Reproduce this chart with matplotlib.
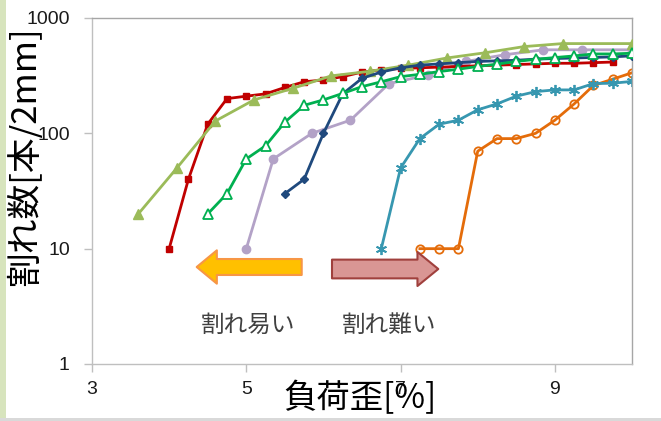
import matplotlib
matplotlib.use("Agg")
import matplotlib.pyplot as plt
from matplotlib.patches import FancyArrowPatch, Rectangle, ArrowStyle

plt.rcParams['font.family'] = ['Noto Sans CJK JP', 'DejaVu Sans']

# ---- data ----
red_x = [4.0, 4.25, 4.5, 4.75, 5.0, 5.25, 5.5, 5.75, 6.0, 6.25, 6.5, 6.75, 7.0, 7.25,
         7.5, 7.75, 8.0, 8.25, 8.5, 8.75, 9.0, 9.25, 9.5, 9.75]
red_y = [10, 40, 120, 200, 210, 220, 250, 280, 290, 310, 340, 355, 365, 370,
         375, 380, 385, 390, 395, 400, 405, 405, 410, 415]

olive_x = [3.6, 4.1, 4.6, 5.1, 5.6, 6.1, 6.6, 7.1, 7.6, 8.1, 8.6, 9.1, 10.0]
olive_y = [20, 50, 128, 195, 245, 315, 345, 390, 450, 500, 565, 600, 600]

green_x = [4.5, 4.75, 5.0, 5.25, 5.5, 5.75, 6.0, 6.25, 6.5, 6.75, 7.0, 7.25, 7.5,
           7.75, 8.0, 8.25, 8.5, 8.75, 9.0, 9.25, 9.5, 9.75, 10.0]
green_y = [20, 30, 60, 78, 125, 175, 195, 222, 254, 280, 310, 325, 343,
           360, 380, 398, 420, 438, 454, 469, 488, 488, 495]

lav_x = [5.0, 5.35, 5.85, 6.35, 6.85, 7.35, 7.85, 8.35, 8.85, 9.35, 10.0]
lav_y = [10, 60, 100, 130, 270, 320, 420, 480, 530, 530, 530]

blue_x = [5.5, 5.75, 6.0, 6.25, 6.5, 6.75, 7.0, 7.25, 7.5, 7.75, 8.0, 8.25, 8.5,
          8.75, 9.0, 9.25, 9.5, 9.75, 10.0]
blue_y = [30, 40, 100, 220, 300, 340, 370, 390, 400, 410, 420, 425, 430,
          440, 445, 450, 455, 460, 470]

teal_x = [6.75, 7.0, 7.25, 7.5, 7.75, 8.0, 8.25, 8.5, 8.75, 9.0, 9.25, 9.5, 9.75, 10.0]
teal_y = [10, 50, 90, 120, 130, 160, 180, 210, 230, 238, 238, 270, 272, 282]

orange_x = [7.25, 7.5, 7.75, 8.0, 8.25, 8.5, 8.75, 9.0, 9.25, 9.5, 9.75, 10.0]
orange_y = [10, 10, 10, 70, 90, 90, 100, 130, 180, 260, 295, 335]

x_ticks = [3, 5, 7, 9]
y_ticks = [1, 10, 100, 1000]
y_tick_labels = ['1', '10', '100', '1000']

# ---- figure ----
W, H = 661, 421
fig = plt.figure(figsize=(W / 100, H / 100), dpi=100)
fig.patch.set_facecolor('white')
# slide decorations
fig.patches.append(Rectangle((0, 0), 6 / W, 1, transform=fig.transFigure,
                             facecolor='#d7e4bd', edgecolor='none', zorder=0))
fig.patches.append(Rectangle((0, 0), 1, 3 / H, transform=fig.transFigure,
                             facecolor='#d9d9d9', edgecolor='none', zorder=0))

L, R, T, B = 92, 632, 18, 364
ax = fig.add_axes([L / W, 1 - B / H, (R - L) / W, (B - T) / H])
ax.set_yscale('log')
ax.set_xlim(3, 10)
ax.set_ylim(1, 1000)

lw = 2.0
ms = 5
ax.plot(orange_x, orange_y, color='#e46c0a', lw=lw, marker='o', ms=ms + 1,
        mfc='none', mec='#e46c0a', mew=1.3, zorder=2)
ax.plot(teal_x, teal_y, color='#3797b0', lw=lw, marker=(6, 2, 0), ms=ms + 3,
        mec='#3797b0', mew=1.3, zorder=2)
ax.plot(lav_x, lav_y, color='#b3a2c7', lw=lw, marker='o', ms=ms + 1,
        mfc='#b3a2c7', mec='#b3a2c7', zorder=3)
ax.plot(red_x, red_y, color='#c00000', lw=lw, marker='s', ms=ms,
        mfc='#c00000', mec='#c00000', zorder=4)
ax.plot(olive_x, olive_y, color='#9bbb59', lw=lw, marker='^', ms=ms + 2,
        mfc='#9bbb59', mec='#9bbb59', zorder=4)
ax.plot(blue_x, blue_y, color='#1f497d', lw=lw, marker='D', ms=ms - 1,
        mfc='#1f497d', mec='#1f497d', zorder=5)
ax.plot(green_x, green_y, color='#00b050', lw=lw, marker='^', ms=ms + 2,
        mfc='white', mec='#00b050', mew=1.3, zorder=6)

# axes styling
ax.set_xticks(x_ticks)
ax.set_xticklabels([str(t) for t in x_ticks])
ax.set_yticks(y_ticks)
ax.set_yticklabels(y_tick_labels)
ax.minorticks_off()
ax.yaxis.set_minor_locator(matplotlib.ticker.NullLocator())
for lab in ax.get_xticklabels() + ax.get_yticklabels():
    lab.set_fontfamily('Liberation Sans')
    lab.set_fontsize(14)
    lab.set_color('#1a1a1a')
ax.tick_params(axis='y', direction='out', length=6, width=1, color='#bfbfbf', pad=10)
ax.tick_params(axis='x', direction='out', length=6, width=1, color='#bfbfbf', pad=6)
ax.spines['left'].set_color('#bfbfbf')
ax.spines['bottom'].set_color('#bfbfbf')
ax.spines['top'].set_color('#a6a6a6')
ax.spines['right'].set_color('#a6a6a6')
for s in ax.spines.values():
    s.set_linewidth(1.0)

# labels
fig.text(26 / W, 1 - 156 / H, '割れ数[本/2mm]', rotation=90, ha='center', va='center',
         fontsize=25, color='black')
fig.text(360 / W, 1 - 399 / H, '負荷歪[%]', ha='center', va='center',
         fontsize=24, color='black')

# annotation arrows (axes fraction)
def fx(px):
    return (px - L) / (R - L)

def fy(py):
    return (B - py) / (B - T)

a1 = FancyArrowPatch((fx(301.7), fy(267)), (fx(196.7), fy(267)),
                     transform=ax.transAxes,
                     arrowstyle=ArrowStyle('Simple', head_length=14.5, head_width=24, tail_width=11.5),
                     mutation_scale=1, shrinkA=0, shrinkB=0,
                     facecolor='#ffc000', edgecolor='#f79646', lw=1.5, zorder=7,
                     clip_on=False)
ax.add_patch(a1)
a2 = FancyArrowPatch((fx(332), fy(269)), (fx(438.3), fy(269)),
                     transform=ax.transAxes,
                     arrowstyle=ArrowStyle('Simple', head_length=15, head_width=24.5, tail_width=13.5),
                     mutation_scale=1, shrinkA=0, shrinkB=0,
                     facecolor='#d99694', edgecolor='#a0403d', lw=1.5, zorder=7,
                     clip_on=False)
ax.add_patch(a2)

ax.text(fx(248), fy(325), '割れ易い', transform=ax.transAxes, ha='center', va='center',
        fontsize=17, color='#404040')
ax.text(fx(389), fy(325), '割れ難い', transform=ax.transAxes, ha='center', va='center',
        fontsize=17, color='#404040')

fig.savefig('out.png', dpi=100)
